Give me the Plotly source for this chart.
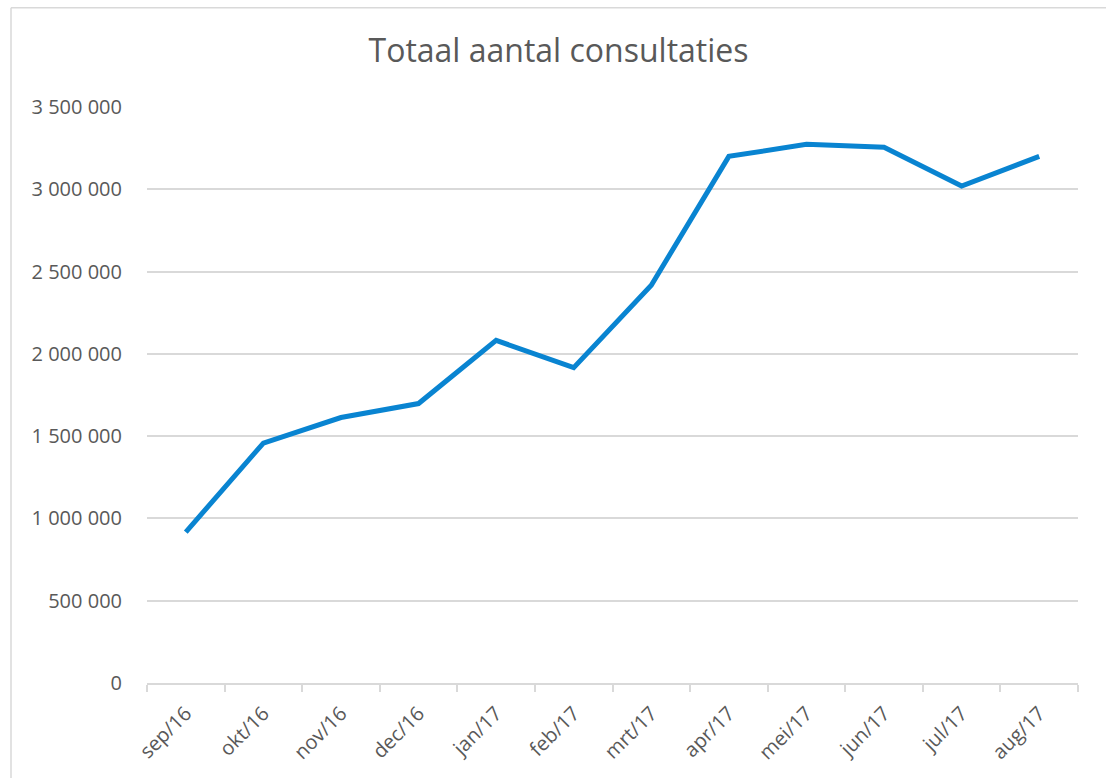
import plotly.graph_objects as go

months = ["sep/16", "okt/16", "nov/16", "dec/16", "jan/17", "feb/17",
          "mrt/17", "apr/17", "mei/17", "jun/17", "jul/17", "aug/17"]
consultaties = [917000, 1458000, 1613000, 1698000, 2082000, 1916000,
                2417000, 3200000, 3273000, 3255000, 3020000, 3200000]
y_ticks = [0, 500000, 1000000, 1500000, 2000000, 2500000, 3000000, 3500000]
y_labels = ["{:,}".format(v).replace(",", " ") for v in y_ticks]

W, H = 1106, 778
L, R, T, B = 147, 28, 106.7, 95.3
pw, ph = W - L - R, H - T - B

def px_x(px):
    return (px - L) / pw

def px_y(py):
    return (H - B - py) / ph

fig = go.Figure()
fig.add_trace(go.Scatter(
    x=months, y=consultaties, mode="lines",
    line=dict(color="#0984d1", width=5, shape="linear"),
    hoverinfo="x+y", showlegend=False,
))

font_family = "Open Sans, Liberation Sans, sans-serif"
grey = "#595959"

fig.update_layout(
    width=W, height=H,
    margin=dict(l=L, r=R, t=T, b=B, autoexpand=False),
    paper_bgcolor="white", plot_bgcolor="white",
    title=dict(text="Totaal aantal consultaties", x=0.505, xanchor="center",
               y=1 - 51 / H, yanchor="middle",
               font=dict(family=font_family, size=32, color=grey)),
    xaxis=dict(
        type="category", range=[-0.5, 11.5],
        showgrid=False, showline=True, linecolor="#d9d9d9", linewidth=1.5,
        ticks="outside", ticklen=7, tickcolor="#d9d9d9", tickwidth=1.5,
        tickson="boundaries", ticklabelstandoff=9,
        tickangle=-45, tickfont=dict(family=font_family, size=20, color=grey),
        fixedrange=True,
    ),
    yaxis=dict(
        range=[0, 3500000], tickvals=y_ticks, ticktext=y_labels,
        showgrid=True, gridcolor="#d9d9d9", gridwidth=1.5,
        zeroline=False, showline=False, ticks="", ticklabelstandoff=24,
        tickfont=dict(family=font_family, size=20, color=grey),
        fixedrange=True,
    ),
    shapes=[
        dict(type="line", xref="paper", yref="paper",
             x0=px_x(11), x1=px_x(W), y0=px_y(7.5), y1=px_y(7.5),
             line=dict(color="#d9d9d9", width=1.5)),
        dict(type="line", xref="paper", yref="paper",
             x0=px_x(11), x1=px_x(11), y0=px_y(7.5), y1=px_y(H),
             line=dict(color="#d9d9d9", width=1.5)),
    ],
)

fig.write_html("out.html", config={"displayModeBar": False},
               post_script="document.body.style.margin='0';document.body.style.overflow='hidden';")
